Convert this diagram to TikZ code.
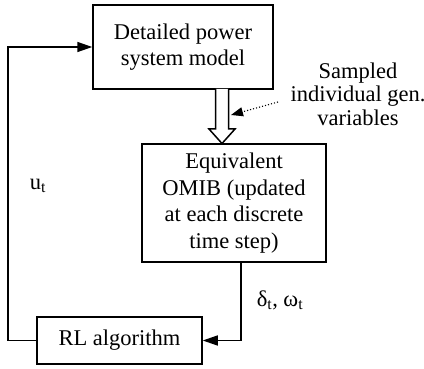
\documentclass[tikz,border=0pt]{standalone}
\usepackage{fontspec}
\setmainfont{Liberation Serif}
\usetikzlibrary{arrows.meta}

\tikzset{
  block/.style={draw, line width=1.5pt, rectangle, inner sep=0pt, align=center,
    font=\fontsize{22.5}{26.5}\selectfont},
  link/.style={line width=1.5pt, -{Triangle[length=15pt,width=10pt]}},
  hint/.style={line width=1.1pt, dotted, -{Triangle[length=12pt,width=9pt]}},
  lbl/.style={font=\fontsize{22.5}{23.5}\selectfont, inner sep=0pt, align=center},
  hollow/.style={line width=1.5pt, fill=white, line join=miter}
}

\begin{document}
\begin{tikzpicture}[x=1pt, y=-1pt]
  \useasboundingbox (0,0) rectangle (424,369);

  % blocks
  \node[block, minimum width=180pt, minimum height=84pt] (model) at (183,47)
    {Detailed power\\system model};
  \node[block, minimum width=184pt, minimum height=118pt] (omib) at (234,203)
    {Equivalent\\OMIB (updated\\at each discrete\\time step)};
  \node[block, minimum width=165pt, minimum height=47pt] (rl) at (119.5,340.5)
    {RL algorithm};

  % wide hollow arrow from the model to the OMIB
  \draw[hollow] (215.5,89) -- (215.5,129) -- (209,129) -- (222,143.5)
    -- (235,129) -- (228.5,129) -- (228.5,89);

  % sampled variables annotation
  \node[lbl] (samp) at (358,94) {Sampled\\individual gen.\\variables};
  \coordinate (hfrom) at (278,102);
  \coordinate (hto) at (231,115);
  \draw[hint] (hfrom) -- (hto);

  % feedback loop: RL output back to the model
  \coordinate (lb) at (8,340.5);
  \coordinate (lt) at (8,47);
  \draw[link] (rl.west) -- (lb) -- (lt) -- (model.west);
  \node[lbl] (u) at (38,186) {u\textsubscript{t}};

  % OMIB states into the RL agent
  \coordinate (ot) at (241,262);
  \coordinate (ob) at (241,340.5);
  \draw[link] (ot) -- (ob) -- (rl.east);
  \node[lbl] (st) at (280,300) {δ\textsubscript{t}, ω\textsubscript{t}};
\end{tikzpicture}
\end{document}
